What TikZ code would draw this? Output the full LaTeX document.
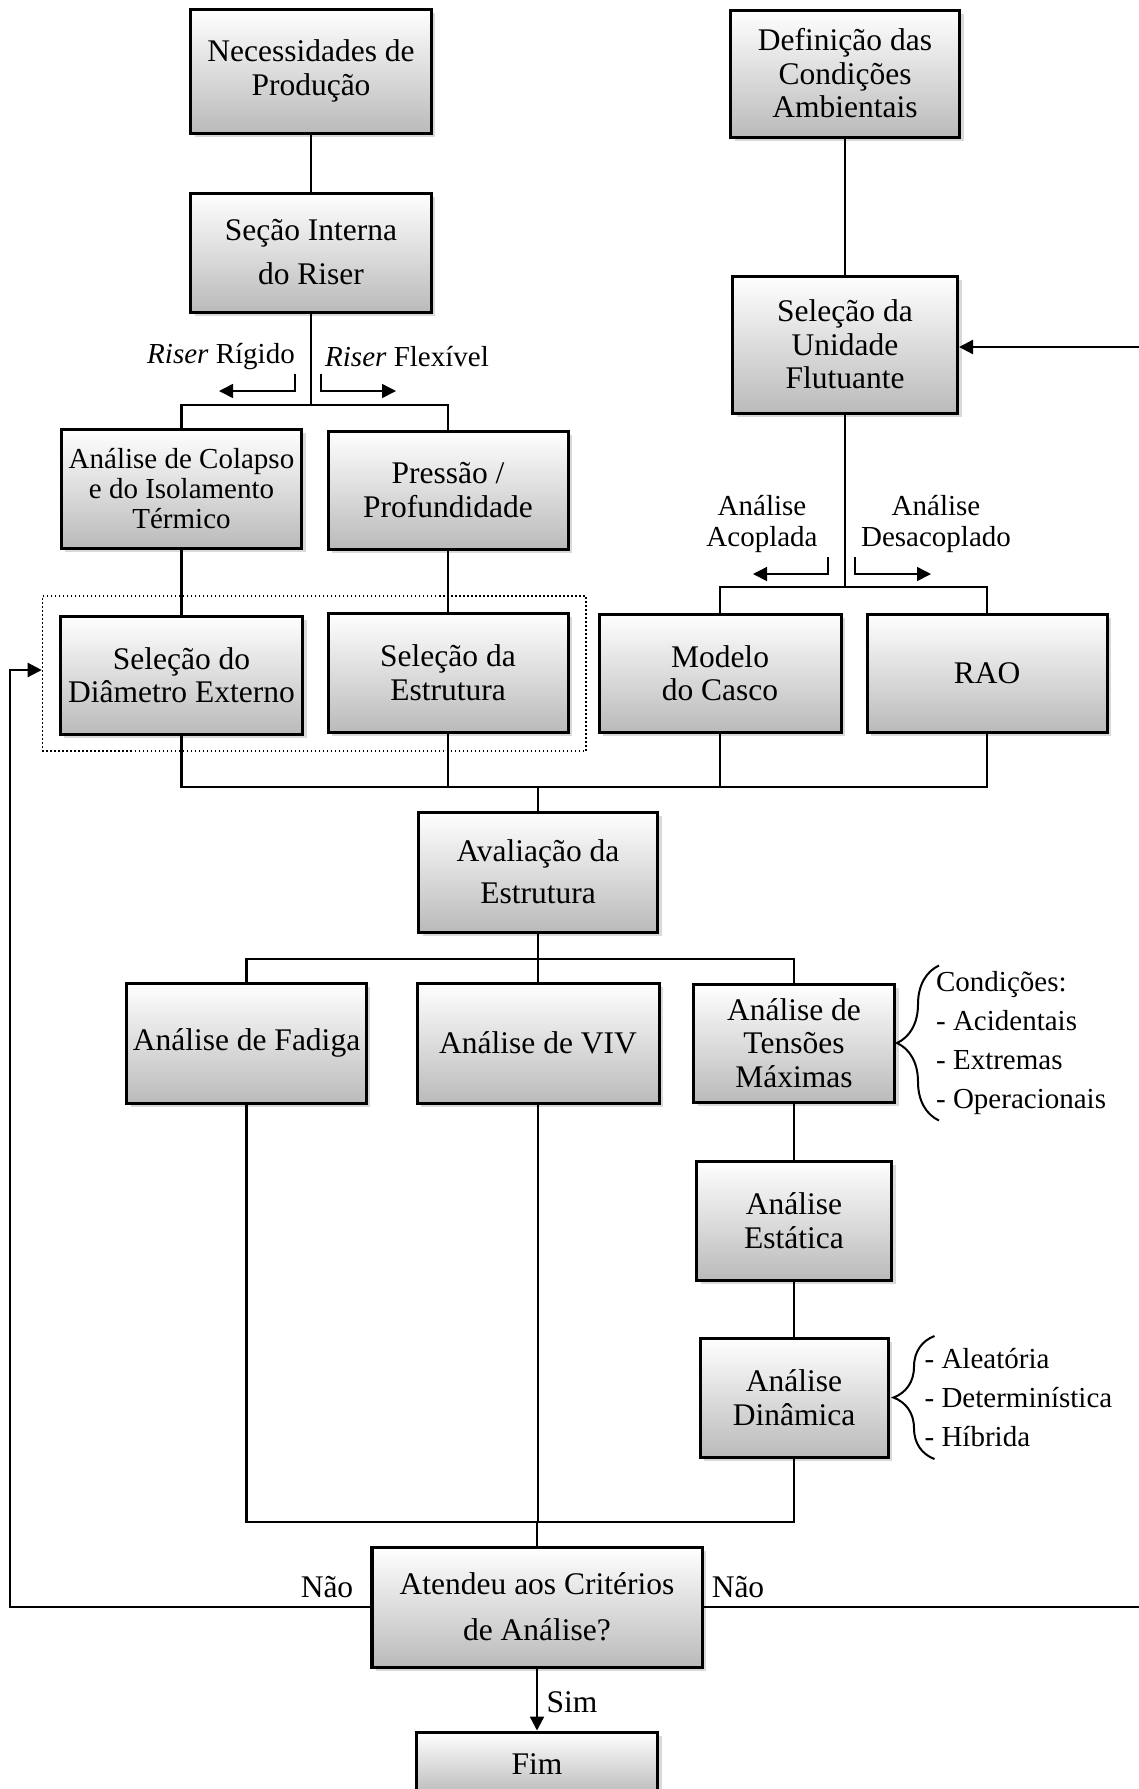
\documentclass[tikz,border=0pt]{standalone}
\usepackage{fontspec}
\setmainfont{Liberation Serif}
\usetikzlibrary{arrows.meta,shadows,positioning,fit,decorations.pathreplacing}

\tikzset{
  box/.style={draw, line width=1.2pt, top color=white, bottom color=black!27,
    drop shadow={shadow xshift=1.6pt, shadow yshift=-1.6pt, opacity=0.3},
    align=center, inner sep=1pt, minimum width=96pt, minimum height=47.6pt,
    font=\fontsize{12.6}{13.4}\selectfont},
  rotulo/.style={align=center, inner sep=0pt, font=\fontsize{11.6}{12.6}\selectfont},
  texto/.style={inner sep=0pt, font=\fontsize{12.6}{13.4}\selectfont},
  nota/.style={align=left, inner sep=0pt, font=\fontsize{11.6}{15.6}\selectfont},
  seta/.style={->, line width=0.6pt},
  chave/.style={decorate, line width=0.8pt},
  grupo/.style={draw, densely dotted, line width=0.6pt},
}

\begin{document}
\begin{tikzpicture}[x=0.4pt, y=-0.4pt, line width=0.9pt, >={Triangle[length=5.6pt,width=5.6pt]}]
        \useasboundingbox (0,0) rectangle (1139,1789);
        % riser
        \node[box, minimum height=49.6pt] (nec) at (311,71) {Necessidades de\\Produção};
        \node[box, below=22.8pt of nec, font=\fontsize{12.6}{17.6}\selectfont] (secao) {Seção Interna\\do Riser};
        \node[box, font=\fontsize{11.6}{12}\selectfont] (colapso) at (181.5,488.5) {Análise de Colapso\\e do Isolamento\\Térmico};
        \node[box, minimum height=47.2pt] (pressao) at (448,490) {Pressão /\\Profundidade};
        \node[box, minimum width=96.8pt, minimum height=47.2pt] (diametro) at (181.5,675) {Seleção do\\Diâmetro Externo};
        \node[box] (estrutura) at (448,672.5) {Seleção da\\Estrutura};
        \node[grupo, fit=(diametro)(estrutura), inner xsep=6.6pt, inner ysep=6.2pt] (grupo) {};
        % unidade flutuante
        \node[box, minimum width=91.6pt, minimum height=50.8pt] (def) at (845,73.5) {Definição das\\Condições\\Ambientais};
        \node[box, below=54.4pt of def, minimum width=90pt, minimum height=54.8pt] (unidade) {Seleção da\\Unidade\\Flutuante};
        \node[box, minimum width=96.8pt, minimum height=47.2pt] (casco) at (720,673) {Modelo\\do Casco};
        \node[box, minimum height=47.2pt] (rao) at (987,673) {RAO};
        % analises
        \node[box, minimum width=95.6pt, minimum height=48pt, font=\fontsize{12.6}{16.8}\selectfont] (avaliacao) at (538,872) {Avaliação da\\Estrutura};
        \node[box, minimum width=95.6pt, minimum height=48pt] (fadiga) at (246.5,1043) {Análise de Fadiga};
        \node[box, minimum width=96.8pt, minimum height=48pt] (viv) at (538,1043) {Análise de VIV};
        \node[box, minimum width=80.4pt, minimum height=47.2pt] (tensoes) at (794,1043) {Análise de\\Tensões\\Máximas};
        \node[box, below=22.4pt of tensoes, minimum width=78pt] (estatica) {Análise\\Estática};
        \node[box, below=22pt of estatica, minimum width=75.2pt] (dinamica) {Análise\\Dinâmica};
        \node[box, minimum width=132pt, minimum height=48pt, font=\fontsize{12.6}{18.4}\selectfont] (atendeu) at (537,1607) {Atendeu aos Critérios\\de Análise?};
        \node[box, below=24.8pt of atendeu, minimum width=96.4pt, minimum height=25.6pt] (fim) {Fim};
        % rotulos
        \node[rotulo] (rigido) at (221,357) {\textit{Riser} Rígido};
        \node[rotulo] (flexivel) at (407,357) {\textit{Riser} Flexível};
        \node[rotulo] (acoplada) at (762,524) {Análise\\Acoplada};
        \node[rotulo] (desacoplado) at (936,524) {Análise\\Desacoplado};
        \node[texto] (naoesq) at (327,1587) {Não};
        \node[texto] (naodir) at (738,1587) {Não};
        \node[texto] (sim) at (572,1702) {Sim};
        \node[nota, right=15.6pt of tensoes] (condicoes) {Condições:\\- Acidentais\\- Extremas\\- Operacionais};
        \node[nota, right=13.6pt of dinamica] (tipos) {- Aleatória\\- Determinística\\- Híbrida};
        \draw[chave, decoration={brace, amplitude=16.8pt}] ([shift={(17.2pt,-31pt)}]tensoes.east) -- ([shift={(17.2pt,31pt)}]tensoes.east);
        \draw[chave, decoration={brace, amplitude=16.4pt}] ([shift={(18pt,-24.6pt)}]dinamica.east) -- ([shift={(18pt,24.6pt)}]dinamica.east);
        % ligacoes
        \coordinate (jriser) at (311,405);
        \draw (nec) -- (secao);
        \draw (secao) -- (jriser);
        \draw (colapso.north) |- (jriser) -| (pressao.north);
        \draw (colapso) -- (diametro);
        \draw (pressao) -- (estrutura);
        \coordinate (rig1) at (295,374);
        \coordinate (rig2) at (219,391);
        \coordinate (flex1) at (321,374);
        \coordinate (flex2) at (396,391);
        \draw[seta] (rig1) |- (rig2);
        \draw[seta] (flex1) |- (flex2);
        \draw (def) -- (unidade);
        \coordinate (junid) at (845,587);
        \draw (unidade) -- (junid);
        \draw (casco.north) |- (junid) -| (rao.north);
        \coordinate (aco1) at (828,557);
        \coordinate (aco2) at (753,574);
        \coordinate (des1) at (855,557);
        \coordinate (des2) at (931,574);
        \draw[seta] (aco1) |- (aco2);
        \draw[seta] (des1) |- (des2);
        \coordinate (javal) at (538,787);
        \draw (diametro.south) |- (rao.south |- javal) -- (rao.south);
        \draw (estrutura) -- (estrutura |- javal);
        \draw (casco) -- (casco |- javal);
        \draw (javal) -- (avaliacao);
        \coordinate (jana) at (538,959);
        \draw (avaliacao) -- (jana);
        \draw (fadiga.north) |- (jana) -| (tensoes.north);
        \draw (jana) -- (viv);
        \draw (tensoes) -- (estatica);
        \draw (estatica) -- (dinamica);
        \coordinate (jcrit) at (537,1522);
        \draw (fadiga.south) |- (dinamica.south |- jcrit) -- (dinamica.south);
        \draw (viv) -- (viv |- jcrit);
        \draw (jcrit) -- (atendeu);
        \draw[->] (atendeu) -- (fim);
        \coordinate (voltaesq) at (10,670);
        \draw[->] (atendeu.west) -| (voltaesq) -- (grupo.west |- voltaesq);
        \coordinate (voltadir) at (1142,347);
        \draw[->] (atendeu.east) -| (voltadir) -- (unidade.east |- voltadir);
\end{tikzpicture}
\end{document}
